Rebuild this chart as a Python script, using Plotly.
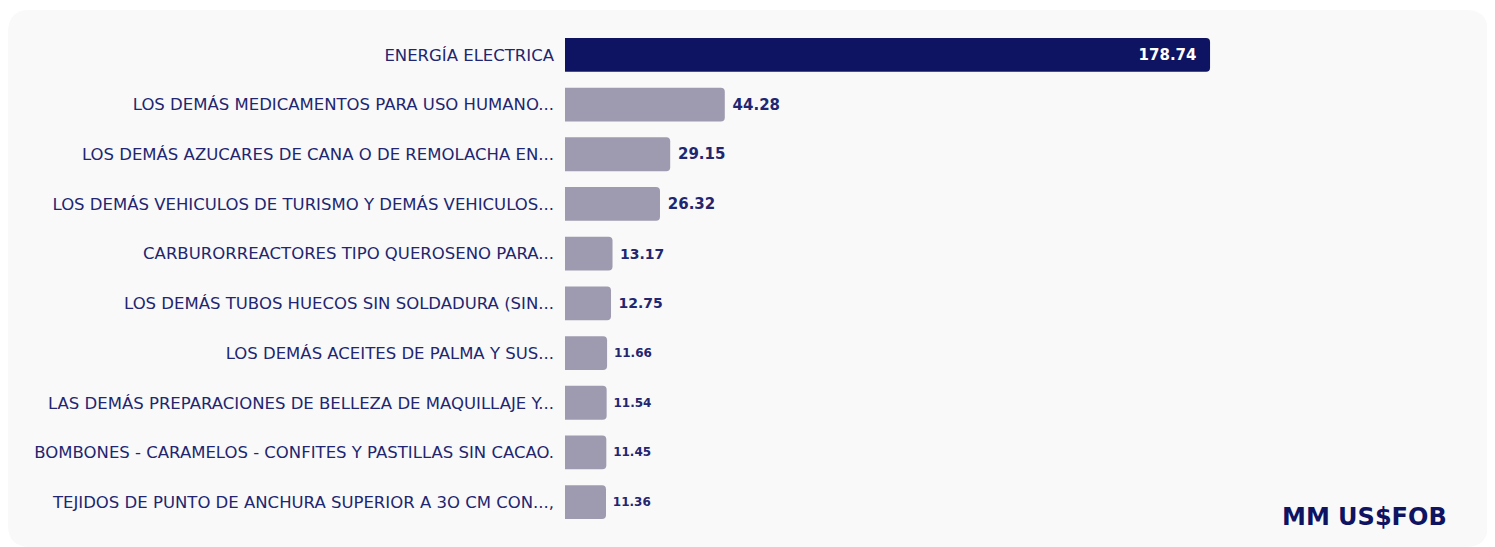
import plotly.graph_objects as go

categories = [
    "ENERGÍA ELECTRICA",
    "LOS DEMÁS MEDICAMENTOS PARA USO HUMANO...",
    "LOS DEMÁS AZUCARES DE CANA O DE REMOLACHA EN...",
    "LOS DEMÁS VEHICULOS DE TURISMO Y DEMÁS VEHICULOS...",
    "CARBURORREACTORES TIPO QUEROSENO PARA...",
    "LOS DEMÁS TUBOS HUECOS SIN SOLDADURA (SIN...",
    "LOS DEMÁS ACEITES DE PALMA Y SUS...",
    "LAS DEMÁS PREPARACIONES DE BELLEZA DE MAQUILLAJE Y...",
    "BOMBONES - CARAMELOS - CONFITES Y PASTILLAS SIN CACAO.",
    "TEJIDOS DE PUNTO DE ANCHURA SUPERIOR A 3O CM CON...,",
]
values = [178.74, 44.28, 29.15, 26.32, 13.17, 12.75, 11.66, 11.54, 11.45, 11.36]
unit_label = "MM US$FOB"

NAVY = "#0e1462"
GREY = "#9e9bb0"
TXT = "#222670"
FONT = "DejaVu Sans"

OFF = 8  # page body margin
W, H = 1495 - OFF, 547 - OFF
ML, MR, MT, MB = 565 - OFF, 35, 30 - OFF, 20
PW = W - ML - MR
PH = H - MT - MB

NB = "\u00a0"
colors = [NAVY] + [GREY] * (len(values) - 1)
textpos = ["inside"] + ["outside"] * (len(values) - 1)
textcolors = ["white"] + [TXT] * (len(values) - 1)
textsizes = [15, 15, 15, 15, 14, 14, 12, 12, 12, 12]
labels = [f"<b>{values[0]:.2f}</b>{NB*2}"] + [f"{NB}<b>{v:.2f}</b>" for v in values[1:]]

fig = go.Figure(go.Bar(
    x=values, y=categories, orientation="h",
    marker=dict(color=colors, line=dict(width=0)),
    text=labels,
    textposition=textpos,
    insidetextanchor="end",
    textfont=dict(color=textcolors, size=textsizes, family=FONT),
    cliponaxis=False,
    hoverinfo="skip",
))

def px2paper(X, Y):
    X -= OFF
    Y -= OFF
    return (X - ML) / PW, (H - MB - Y) / PH

x0, y0, x1, y1, r = 8, 10, 1488, 547, 22
def P(X, Y):
    a, b = px2paper(X, Y)
    return f"{a:.5f},{b:.5f}"
path = (f"M {P(x0 + r, y0)} L {P(x1 - r, y0)} Q {P(x1, y0)} {P(x1, y0 + r)} "
        f"L {P(x1, y1 - r)} Q {P(x1, y1)} {P(x1 - r, y1)} "
        f"L {P(x0 + r, y1)} Q {P(x0, y1)} {P(x0, y1 - r)} "
        f"L {P(x0, y0 + r)} Q {P(x0, y0)} {P(x0 + r, y0)} Z")

fig.update_layout(
    width=W, height=H,
    margin=dict(l=ML, r=MR, t=MT, b=MB, autoexpand=False),
    paper_bgcolor="white", plot_bgcolor="rgba(0,0,0,0)",
    bargap=0.32, barcornerradius=4,
    showlegend=False,
    font=dict(family=FONT, color=TXT),
    xaxis=dict(range=[0, 248], visible=False, fixedrange=True),
    yaxis=dict(autorange="reversed", showgrid=False, zeroline=False, showline=False,
               ticks="", ticklabelstandoff=10,
               tickfont=dict(size=16.5, color=TXT, family=FONT)),
    shapes=[dict(type="path", xref="paper", yref="paper", path=path,
                 fillcolor="#f9f9f9", line=dict(width=0), layer="below")],
    annotations=[dict(text=f"<b>{unit_label}</b>", xref="paper", yref="paper",
                      x=px2paper(1449, 0)[0], y=px2paper(0, 517)[1],
                      xanchor="right", yanchor="middle", showarrow=False,
                      font=dict(size=24, color=NAVY, family=FONT))],
)

fig.write_html("out.html")
